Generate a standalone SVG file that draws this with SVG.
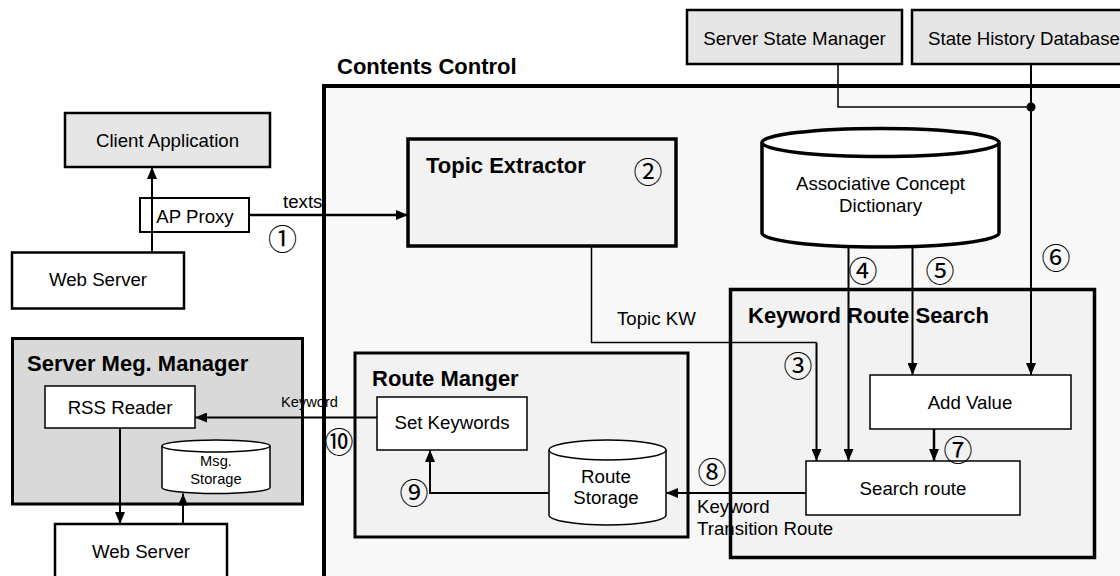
<svg xmlns="http://www.w3.org/2000/svg" width="1120" height="576" viewBox="0 0 1120 576">
<defs>
<marker id="ah" viewBox="0 0 12 10" markerUnits="userSpaceOnUse" markerWidth="12" markerHeight="10" refX="12" refY="5" orient="auto">
<path d="M0,0 L12,5 L0,10 z" fill="#000"/>
</marker>
</defs>
<style>
text{font-family:"Liberation Sans",Arial,sans-serif;font-size:18.67px;fill:#000}
.b{font-weight:bold;font-size:22px}
.s{font-size:14.67px}
.c{text-anchor:middle}
.n{font-family:"Noto Sans CJK JP","Noto Sans CJK SC",sans-serif;font-size:29px;text-anchor:middle}
.grp{fill:#f2f2f2;stroke:#000;stroke-width:3.5}
.ext{fill:#e6e6e6;stroke:#000;stroke-width:2.5}
.wb{fill:#fff;stroke:#000;stroke-width:2.5}
.wt{fill:#fff;stroke:#000;stroke-width:1.5}
.cn{fill:none;stroke:#000;stroke-width:2}
.cnt{fill:none;stroke:#000;stroke-width:1.5}
</style>
<rect width="1120" height="576" fill="#fff"/>

<g id="contents-control">
<rect x="324" y="86" width="850" height="520" fill="#f8f8f8" stroke="#000" stroke-width="4"/>
<text class="b" x="337" y="74">Contents Control</text>
</g>

<g id="client-application">
<rect class="ext" x="65" y="113" width="205" height="54"/>
<text class="c" x="167.5" y="147">Client Application</text>
</g>

<g id="web-server-top">
<rect class="wb" x="12" y="252.5" width="172" height="56"/>
<text class="c" x="98" y="286">Web Server</text>
</g>

<g id="ap-proxy">
<rect fill="#fff" stroke="#000" stroke-width="2" x="140" y="198" width="109" height="34"/>
<text class="c" x="195" y="223">AP Proxy</text>
</g>

<g id="server-msg-manager">
<rect fill="#d9d9d9" stroke="#000" stroke-width="3" x="12.5" y="338.5" width="290" height="165.5"/>
<text class="b" x="27" y="371">Server Meg. Manager</text>
</g>

<g id="rss-reader">
<rect class="wt" x="45" y="386" width="150" height="42"/>
<text class="c" x="120" y="413.5">RSS Reader</text>
</g>

<g id="msg-storage">
<path class="wt" d="M162,446 V487.5 A54,6 0 0 0 270,487.5 V446"/>
<ellipse class="wt" cx="216" cy="446" rx="54" ry="6"/>
<text class="c s" x="216" y="466">Msg.</text>
<text class="c s" x="216" y="483.5">Storage</text>
</g>

<g id="web-server-bottom">
<rect class="wb" x="55" y="524" width="172" height="60"/>
<text class="c" x="141" y="558">Web Server</text>
</g>

<g id="server-state-manager">
<rect class="ext" x="687" y="10" width="215" height="54"/>
<text class="c" x="794.5" y="45">Server State Manager</text>
</g>

<g id="state-history-database">
<rect class="ext" x="912" y="10" width="224" height="54"/>
<text x="928" y="45">State History Database</text>
</g>

<g id="topic-extractor">
<rect class="grp" x="408" y="139" width="268" height="107"/>
<text class="b" x="426" y="173">Topic Extractor</text>
</g>

<g id="associative-concept-dictionary">
<path fill="#fff" stroke="#000" stroke-width="3.5" d="M762,142.5 V233 A118.5,14 0 0 0 999,233 V142.5"/>
<ellipse fill="#fff" stroke="#000" stroke-width="3.5" cx="880.5" cy="142.5" rx="118.5" ry="14"/>
<text class="c" x="880.5" y="190">Associative Concept</text>
<text class="c" x="880.5" y="212">Dictionary</text>
</g>

<g id="keyword-route-search">
<rect class="grp" x="730.5" y="289.5" width="364" height="268"/>
<text class="b" x="748" y="322.5">Keyword Route Search</text>
</g>

<g id="add-value">
<rect class="wt" x="870" y="375" width="201" height="54"/>
<text class="c" x="970" y="409">Add Value</text>
</g>

<g id="search-route">
<rect class="wt" x="806" y="461" width="214" height="54"/>
<text class="c" x="913" y="495">Search route</text>
</g>

<g id="route-manager">
<rect fill="#f2f2f2" stroke="#000" stroke-width="3" x="355" y="353" width="333" height="184"/>
<text class="b" x="372" y="386">Route Manger</text>
</g>

<g id="set-keywords">
<rect class="wt" x="377" y="397" width="150" height="53"/>
<text class="c" x="452" y="429">Set Keywords</text>
</g>

<g id="route-storage">
<path class="wt" d="M549,450 V515 A58.5,10 0 0 0 666,515 V450"/>
<ellipse class="wt" cx="607.5" cy="450" rx="58.5" ry="10"/>
<text class="c" x="606" y="483">Route</text>
<text class="c" x="606" y="504">Storage</text>
</g>

<g id="connectors">
<path class="cn" d="M152,252.5 V167" marker-end="url(#ah)"/>
<path fill="none" stroke="#000" stroke-width="2.5" d="M249,215 H408" marker-end="url(#ah)"/>
<path class="cnt" d="M591.5,246 V342.5 H816.5"/>
<path class="cn" d="M816.5,342.5 V461" marker-end="url(#ah)"/>
<path class="cn" d="M848.5,247 V461" marker-end="url(#ah)"/>
<path class="cn" d="M912.5,247 V375" marker-end="url(#ah)"/>
<path class="cn" d="M1031,64 V375" marker-end="url(#ah)"/>
<path class="cnt" d="M838,64 V107 H1031"/>
<circle cx="1031" cy="107" r="4.5" fill="#000"/>
<path fill="none" stroke="#000" stroke-width="2.5" d="M934,429 V461" marker-end="url(#ah)"/>
<path class="cn" d="M806,493 H666" marker-end="url(#ah)"/>
<path class="cn" d="M549,493 H430 V450" marker-end="url(#ah)"/>
<path class="cn" d="M377,417.5 H195" marker-end="url(#ah)"/>
<path class="cn" d="M120,428 V524" marker-end="url(#ah)"/>
<path class="cn" d="M183,524 V493.5" marker-end="url(#ah)"/>
</g>

<g id="labels">
<text x="283" y="208">texts</text>
<text x="617" y="325">Topic KW</text>
<text class="s" x="281" y="407">Keyword</text>
<text x="697" y="513">Keyword</text>
<text x="697" y="534.5">Transition Route</text>
<text class="n" x="282.5" y="250">①</text>
<text class="n" x="648" y="182.5">②</text>
<text class="n" x="798" y="376.5">③</text>
<text class="n" x="863" y="281.5">④</text>
<text class="n" x="940" y="281.5">⑤</text>
<text class="n" x="1056" y="268.5">⑥</text>
<text class="n" x="958" y="460.5">⑦</text>
<text class="n" x="712" y="482.5">⑧</text>
<text class="n" x="414" y="503.5">⑨</text>
<text class="n" x="339" y="452.5">⑩</text>
</g>
</svg>
